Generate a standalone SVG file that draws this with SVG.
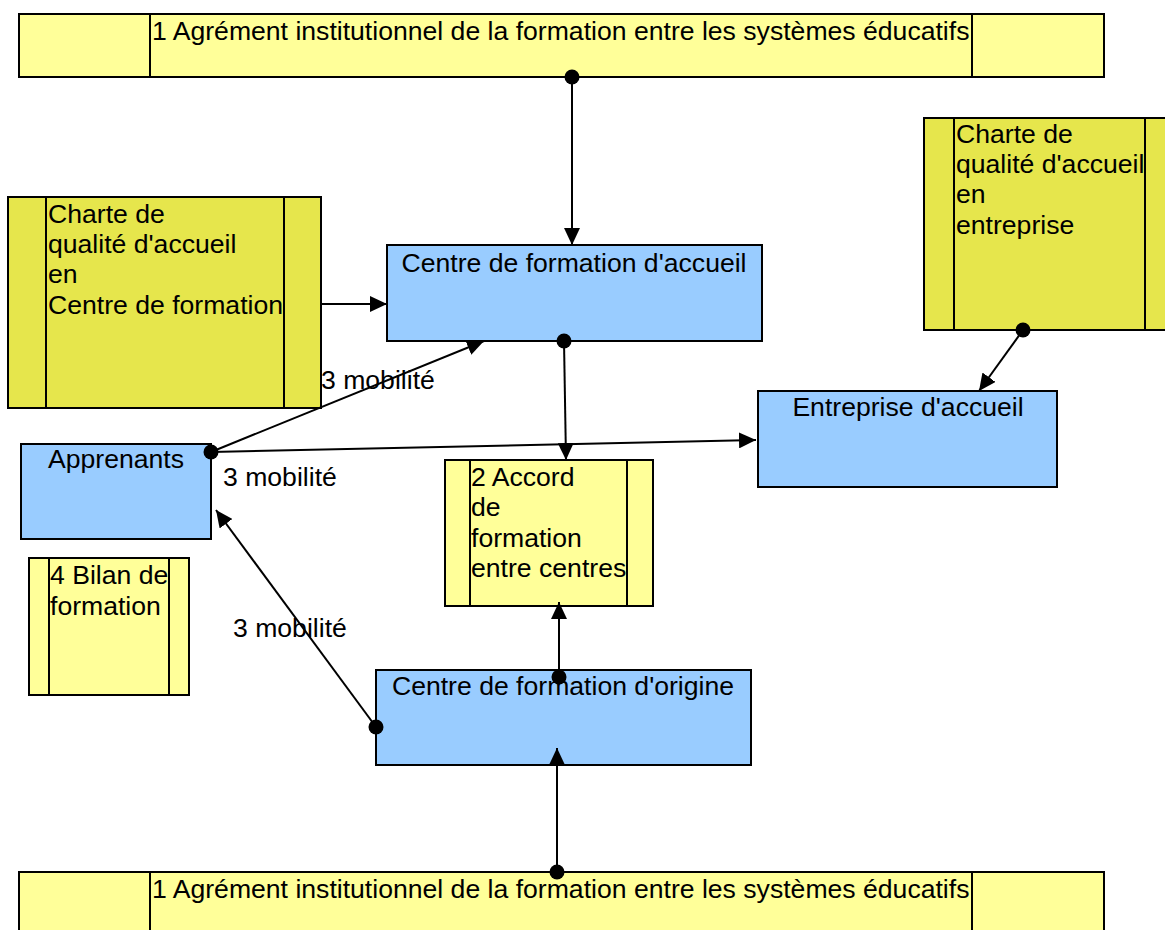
<svg xmlns="http://www.w3.org/2000/svg" width="1165" height="930" viewBox="0 0 1165 930">
<style>
.box{stroke:#000;stroke-width:2}
.ly{fill:#FFFF99}
.dy{fill:#E6E64C}
.bl{fill:#99CCFF}
.sep{stroke:#000;stroke-width:2}
text{font-family:"Liberation Sans",Arial,sans-serif;font-size:26.6px;fill:#000}
.c{text-anchor:middle}
.edge{stroke:#000;stroke-width:2;fill:none}
.dot{fill:#000}
</style>
<defs>
<marker id="arr" markerUnits="userSpaceOnUse" markerWidth="17" markerHeight="16" viewBox="0 0 17 16" refX="17" refY="8" orient="auto">
<path d="M0,0 L17,8 L0,16 Z" fill="#000"/>
</marker>
</defs>
<rect width="1165" height="930" fill="#fff"/>

<g id="agrement-top">
<rect class="box ly" x="19" y="14" width="1085" height="63"/>
<line class="sep" x1="150" y1="14" x2="150" y2="77"/>
<line class="sep" x1="972" y1="14" x2="972" y2="77"/>
<text x="152" y="40">1 Agrément institutionnel de la formation entre les systèmes éducatifs</text>
</g>

<g id="charte-centre">
<rect class="box dy" x="8" y="197" width="313" height="211"/>
<line class="sep" x1="46" y1="197" x2="46" y2="408"/>
<line class="sep" x1="284" y1="197" x2="284" y2="408"/>
<text x="48" y="223">Charte de</text>
<text x="48" y="253">qualité d'accueil</text>
<text x="48" y="283">en</text>
<text x="48" y="314">Centre de formation</text>
</g>

<g id="charte-entreprise">
<rect class="box dy" x="924" y="118" width="250" height="212"/>
<line class="sep" x1="954" y1="118" x2="954" y2="330"/>
<line class="sep" x1="1145" y1="118" x2="1145" y2="330"/>
<text x="956" y="143">Charte de</text>
<text x="956" y="173">qualité d'accueil</text>
<text x="956" y="203">en</text>
<text x="956" y="234">entreprise</text>
</g>

<g id="centre-accueil">
<rect class="box bl" x="387" y="245" width="375" height="96"/>
<text class="c" x="574" y="272">Centre de formation d'accueil</text>
</g>

<g id="entreprise-accueil">
<rect class="box bl" x="758" y="391" width="299" height="96"/>
<text class="c" x="908" y="416">Entreprise d'accueil</text>
</g>

<g id="apprenants">
<rect class="box bl" x="21" y="444" width="190" height="95"/>
<text class="c" x="116" y="468">Apprenants</text>
</g>

<g id="accord">
<rect class="box ly" x="445" y="460" width="208" height="146"/>
<line class="sep" x1="470" y1="460" x2="470" y2="606"/>
<line class="sep" x1="627" y1="460" x2="627" y2="606"/>
<text x="471" y="486">2 Accord</text>
<text x="471" y="516">de</text>
<text x="471" y="547">formation</text>
<text x="471" y="577">entre centres</text>
</g>

<g id="bilan">
<rect class="box ly" x="29" y="558" width="160" height="137"/>
<line class="sep" x1="49" y1="558" x2="49" y2="695"/>
<line class="sep" x1="169" y1="558" x2="169" y2="695"/>
<text x="50" y="584">4 Bilan de</text>
<text x="50" y="615">formation</text>
</g>

<g id="centre-origine">
<rect class="box bl" x="376" y="670" width="375" height="95"/>
<text class="c" x="563" y="695">Centre de formation d'origine</text>
</g>

<g id="agrement-bottom">
<rect class="box ly" x="19" y="872" width="1085" height="70"/>
<line class="sep" x1="150" y1="872" x2="150" y2="942"/>
<line class="sep" x1="972" y1="872" x2="972" y2="942"/>
<text x="152" y="898">1 Agrément institutionnel de la formation entre les systèmes éducatifs</text>
</g>

<g id="connectors">
<line class="edge" x1="572" y1="77" x2="572" y2="245" marker-end="url(#arr)"/>
<circle class="dot" cx="572" cy="77" r="7.5"/>

<line class="edge" x1="321" y1="304" x2="387" y2="304" marker-end="url(#arr)"/>

<line class="edge" x1="564" y1="341" x2="566" y2="460" marker-end="url(#arr)"/>
<circle class="dot" cx="564" cy="341" r="7.5"/>

<line class="edge" x1="1023" y1="330" x2="979" y2="391" marker-end="url(#arr)"/>
<circle class="dot" cx="1023" cy="330" r="7.5"/>

<line class="edge" x1="211" y1="452" x2="484" y2="341" marker-end="url(#arr)"/>
<line class="edge" x1="211" y1="452" x2="756" y2="440" marker-end="url(#arr)"/>
<circle class="dot" cx="211" cy="452" r="7.5"/>
<text x="321" y="389">3 mobilité</text>
<text x="223" y="486">3 mobilité</text>

<line class="edge" x1="376" y1="727" x2="216" y2="510" marker-end="url(#arr)"/>
<circle class="dot" cx="376" cy="727" r="7.5"/>
<text x="233" y="637">3 mobilité</text>

<line class="edge" x1="559" y1="677" x2="559" y2="602" marker-end="url(#arr)"/>
<circle class="dot" cx="559" cy="677" r="7.5"/>

<line class="edge" x1="557" y1="872" x2="557" y2="748" marker-end="url(#arr)"/>
<circle class="dot" cx="557" cy="872" r="7.5"/>
</g>
</svg>
